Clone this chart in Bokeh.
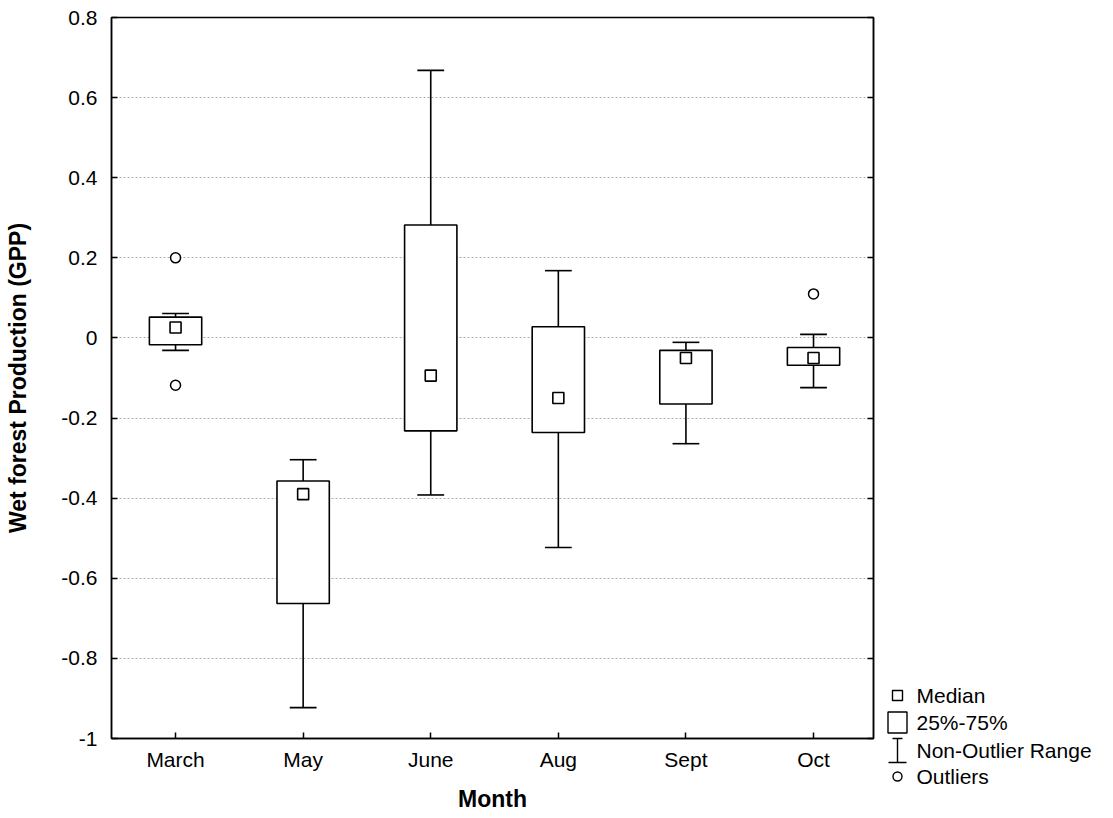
from bokeh.plotting import figure
from bokeh.models import Range1d, FixedTicker, LinearAxis
from bokeh.layouts import row
from bokeh.embed import file_html
from bokeh.resources import INLINE
from bokeh.core.properties import value

# ---- data ----
months = ["March", "May", "June", "Aug", "Sept", "Oct"]
whisker_high = [0.061, -0.304, 0.668, 0.168, -0.011, 0.009]
q3 = [0.052, -0.357, 0.282, 0.028, -0.031, -0.024]
median = [0.026, -0.390, -0.094, -0.150, -0.050, -0.050]
q1 = [-0.017, -0.663, -0.232, -0.236, -0.165, -0.068]
whisker_low = [-0.031, -0.923, -0.392, -0.523, -0.264, -0.124]
outlier_month = ["March", "March", "Oct"]
outlier_value = [0.20, -0.118, 0.11]
y_ticks = [-1.0, -0.8, -0.6, -0.4, -0.2, 0.0, 0.2, 0.4, 0.6, 0.8]
y_tick_labels = ["-1", "-0.8", "-0.6", "-0.4", "-0.2", "0", "0.2", "0.4", "0.6", "0.8"]
legend_labels = ["Median", "25%-75%", "Non-Outlier Range", "Outliers"]

FONT = "Liberation Sans"
xpos = [i + 1 for i in range(len(months))]
pos_of = {m: i + 1 for i, m in enumerate(months)}
box_w = 0.41
cap_w = 0.21

p = figure(frame_width=762, frame_height=721,
           min_border_left=111, min_border_right=10, min_border_top=17, min_border_bottom=80,
           x_range=Range1d(0.498, 6.47), y_range=Range1d(-1.0, 0.8),
           output_backend="svg", toolbar_location=None)
p.background_fill_color = "white"
p.border_fill_color = "white"
p.outline_line_color = "black"
p.outline_line_width = 1.5

# axes
p.xaxis.ticker = FixedTicker(ticks=xpos)
p.xaxis.major_label_overrides = {x: m for x, m in zip(xpos, months)}
p.yaxis.ticker = FixedTicker(ticks=y_ticks)
p.yaxis.major_label_overrides = {t: s for t, s in zip(y_ticks, y_tick_labels)}
for ax in (p.xaxis[0], p.yaxis[0]):
    ax.axis_line_color = "black"
    ax.axis_line_width = 1.5
    ax.major_tick_in = 6
    ax.major_tick_out = 0
    ax.major_tick_line_width = 1.5
    ax.minor_tick_line_color = None
    ax.major_label_text_font = FONT
    ax.major_label_text_font_size = "21px"
    ax.major_label_text_color = "black"
    ax.axis_label_text_font = FONT
    ax.axis_label_text_font_size = "23px"
    ax.axis_label_text_font_style = "bold"
    ax.axis_label_text_color = "black"
p.xaxis.axis_label = "Month"
p.yaxis.axis_label = "Wet forest Production (GPP)"
p.xaxis.major_label_standoff = 9
p.xaxis.axis_label_standoff = 12
p.yaxis.major_label_standoff = 14
p.yaxis.axis_label_standoff = 27

right_ax = LinearAxis(ticker=FixedTicker(ticks=y_ticks),
                      major_label_overrides={t: "" for t in y_ticks},
                      major_label_text_color=None,
                      major_tick_in=6, major_tick_out=0, major_tick_line_width=1.5,
                      minor_tick_line_color=None, axis_line_width=1.5, major_label_standoff=0)
p.add_layout(right_ax, "right")

p.xgrid.visible = False
p.ygrid.ticker = FixedTicker(ticks=y_ticks)
p.ygrid.grid_line_color = "#a8a8a8"
p.ygrid.grid_line_dash = "2 2"
p.ygrid.grid_line_width = 1

# whiskers
p.segment(x0=xpos, y0=q3, x1=xpos, y1=whisker_high, line_color="black", line_width=1.6)
p.segment(x0=xpos, y0=q1, x1=xpos, y1=whisker_low, line_color="black", line_width=1.6)
p.segment(x0=[x - cap_w / 2 for x in xpos], y0=whisker_high,
          x1=[x + cap_w / 2 for x in xpos], y1=whisker_high, line_color="black", line_width=1.6)
p.segment(x0=[x - cap_w / 2 for x in xpos], y0=whisker_low,
          x1=[x + cap_w / 2 for x in xpos], y1=whisker_low, line_color="black", line_width=1.6)
# boxes
p.quad(left=[x - box_w / 2 for x in xpos], right=[x + box_w / 2 for x in xpos],
       top=q3, bottom=q1, fill_color="white", line_color="black", line_width=1.6)
# medians
p.scatter(x=xpos, y=median, marker="square", size=11, fill_color="white",
          line_color="black", line_width=1.6)
# outliers
p.scatter(x=[pos_of[m] for m in outlier_month], y=outlier_value, marker="circle", size=10,
          fill_color="white", line_color="black", line_width=1.5)

# ---- legend panel (separate figure to the right, pixel coordinates) ----
lg = figure(frame_width=230, frame_height=818, x_range=Range1d(0, 230), y_range=Range1d(818, 0),
            x_axis_location=None, y_axis_location=None, title=None,
            output_backend="svg", toolbar_location=None, min_border=0)
lg.grid.visible = False
lg.outline_line_color = None
lg.background_fill_color = "white"
lg.border_fill_color = "white"
ly = [678, 705, 733, 759]
mx = 14
lg.scatter(x=[mx], y=[ly[0]], marker="square", size=10, fill_color="white",
           line_color="black", line_width=1.4)
lg.rect(x=[mx], y=[ly[1]], width=19, height=21, fill_color="white",
        line_color="black", line_width=1.4)
lg.segment(x0=[mx, mx - 5, mx - 9], y0=[ly[2] - 12, ly[2] - 12, ly[2] + 12],
           x1=[mx, mx + 5, mx + 9], y1=[ly[2] + 12, ly[2] - 12, ly[2] + 12],
           line_color="black", line_width=1.4)
lg.scatter(x=[mx], y=[ly[3]], marker="circle", size=9, fill_color="white",
           line_color="black", line_width=1.4)
lg.text(x=[33] * 4, y=ly, text=legend_labels, text_baseline="middle", text_align="left",
        text_font=value(FONT), text_font_size="21px", text_color="black")

layout = row(p, lg)
open("out.html", "w").write(file_html(layout, INLINE))
